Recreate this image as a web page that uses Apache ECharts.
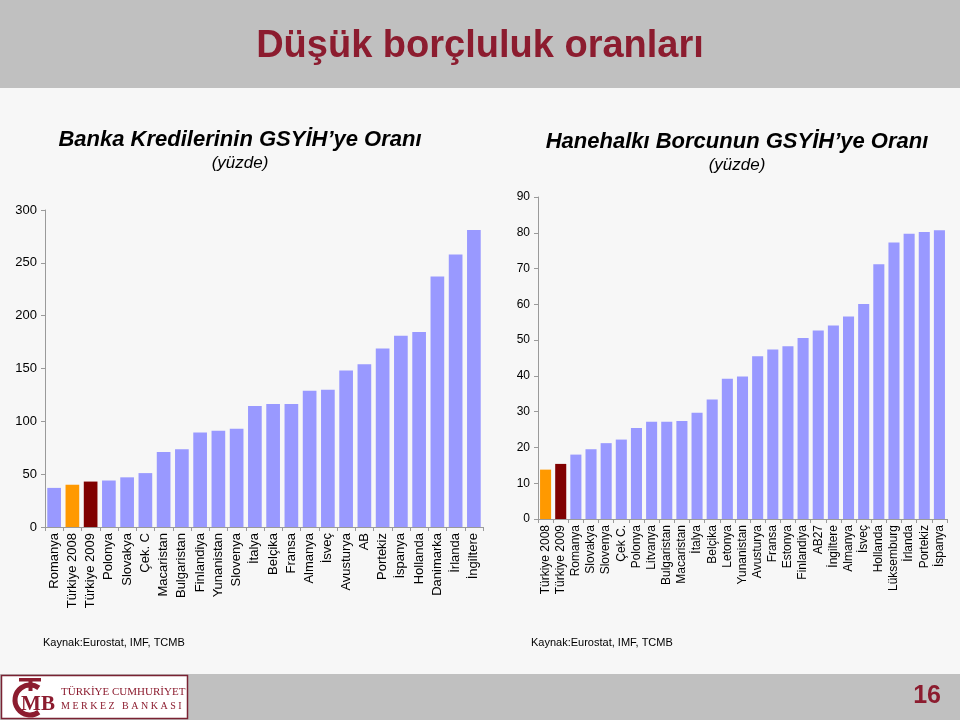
<!DOCTYPE html>
<html><head><meta charset="utf-8">
<script src="https://cdn.jsdelivr.net/npm/echarts@6/dist/echarts.min.js"></script>
<style>html,body{margin:0;padding:0;background:#f7f7f7}#c{width:960px;height:720px}</style>
</head><body><div id="c"></div>
<script>
const leftCategories = ['Romanya','Türkiye 2008','Türkiye 2009','Polonya','Slovakya','Çek. C','Macaristan','Bulgaristan','Finlandiya','Yunanistan','Slovenya','İtalya','Belçika','Fransa','Almanya','İsveç','Avusturya','AB','Portekiz','İspanya','Hollanda','Danimarka','İrlanda','İngiltere'];
const leftValues = [37,40,43,44,47,51,71,73.5,89.5,91,93,114.5,116.5,116.5,129,130,148,154,169,181,184.5,237,258,281];
const rightCategories = ['Türkiye 2008','Türkiye 2009','Romanya','Slovakya','Slovenya','Çek C.','Polonya','Litvanya','Bulgaristan','Macaristan','İtalya','Belçika','Letonya','Yunanistan','Avusturya','Fransa','Estonya','Finlandiya','AB27','İngiltere','Almanya','İsveç','Hollanda','Lüksemburg','İrlanda','Portekiz','İspanya'];
const rightValues = [13.8,15.4,18,19.5,21.2,22.2,25.4,27.2,27.2,27.4,29.7,33.4,39.2,39.8,45.5,47.4,48.3,50.6,52.7,54.1,56.6,60.1,71.2,77.3,79.7,80.2,80.7];
const leftTicks = {min:0,max:300,interval:50};
const rightTicks = {min:0,max:90,interval:10};

const BAR = '#9999ff', ORANGE = '#ff9900', DARK = '#800000', RED = '#8c1c2f';
const FONT = '"Liberation Sans Narrow","Liberation Sans",Arial,sans-serif';
const SANS = '"Liberation Sans",Arial,sans-serif';
const SERIF = '"Liberation Serif","DejaVu Serif",serif';

function colorFor(cat){ if(cat==='Türkiye 2008') return ORANGE; if(cat==='Türkiye 2009') return DARK; return BAR; }

const chart = echarts.init(document.getElementById('c'));
const axisCommon = {
  axisLine:{show:true,lineStyle:{color:'#9a9a9a'}},
  axisTick:{show:true,length:4,lineStyle:{color:'#9a9a9a'}},
  splitLine:{show:false}
};
chart.setOption({
  backgroundColor:'#f7f7f7',
  animation:false,
  textStyle:{fontFamily:FONT},
  graphic:[
    {type:'rect',shape:{x:0,y:0,width:960,height:88},style:{fill:'#c0c0c0'}},
    {type:'text',x:480,y:47,style:{text:'Düşük borçluluk oranları',fill:RED,font:'bold 38px '+FONT,textAlign:'center',textVerticalAlign:'middle'}},
    {type:'text',x:240,y:140,style:{text:'Banka Kredilerinin GSYİH’ye Oranı',fill:'#000',font:'italic bold 22px '+FONT,textAlign:'center',textVerticalAlign:'middle'}},
    {type:'text',x:240,y:163,style:{text:'(yüzde)',fill:'#000',font:'italic 17px '+FONT,textAlign:'center',textVerticalAlign:'middle'}},
    {type:'text',x:737,y:142,style:{text:'Hanehalkı Borcunun GSYİH’ye Oranı',fill:'#000',font:'italic bold 22px '+FONT,textAlign:'center',textVerticalAlign:'middle'}},
    {type:'text',x:737,y:165,style:{text:'(yüzde)',fill:'#000',font:'italic 17px '+FONT,textAlign:'center',textVerticalAlign:'middle'}},
    {type:'text',x:43,y:643,style:{text:'Kaynak:Eurostat, IMF, TCMB',fill:'#000',font:'11px '+FONT,textVerticalAlign:'middle'}},
    {type:'text',x:531,y:643,style:{text:'Kaynak:Eurostat, IMF, TCMB',fill:'#000',font:'11px '+FONT,textVerticalAlign:'middle'}},
    {type:'rect',shape:{x:0,y:674,width:960,height:46},style:{fill:'#c0c0c0'}},
    {type:'rect',shape:{x:1.5,y:675.5,width:186,height:43},style:{fill:'#ffffff',stroke:'#7a2233',lineWidth:1.5}},
    {type:'arc',shape:{cx:30,cy:700,r:15,startAngle:Math.PI*0.3,endAngle:Math.PI*1.7,clockwise:true},style:{stroke:RED,lineWidth:5,fill:'none'}},
    {type:'rect',shape:{x:19,y:678,width:22,height:3.5},style:{fill:RED}},
    {type:'rect',shape:{x:28.5,y:678,width:4,height:13},style:{fill:RED}},
    {type:'text',x:38,y:705,style:{text:'MB',fill:RED,font:'bold 21px '+SERIF,textAlign:'center',textVerticalAlign:'middle'}},
    {type:'text',x:61,y:692,style:{text:'TÜRKİYE CUMHURİYET',fill:RED,font:'11px '+SERIF,textVerticalAlign:'middle'}},
    {type:'text',x:61,y:706,style:{text:'M E R K E Z   B A N K A S I',fill:RED,font:'10px '+SERIF,textVerticalAlign:'middle'}},
    {type:'text',x:941,y:696,style:{text:'16',fill:RED,font:'bold 25px '+FONT,textAlign:'right',textVerticalAlign:'middle'}}
  ],
  grid:[
    {left:45,right:477,top:210,bottom:193,containLabel:false},
    {left:538,right:13,top:197,bottom:201,containLabel:false}
  ],
  xAxis:[
    Object.assign({type:'category',gridIndex:0,data:leftCategories,
      axisLabel:{rotate:90,interval:0,fontSize:13,color:'#000',margin:6,fontFamily:SANS}},axisCommon),
    Object.assign({type:'category',gridIndex:1,data:rightCategories,
      axisLabel:{rotate:90,interval:0,fontSize:12,color:'#000',margin:6,fontFamily:SANS}},axisCommon)
  ],
  yAxis:[
    Object.assign({type:'value',gridIndex:0,min:leftTicks.min,max:leftTicks.max,interval:leftTicks.interval,
      axisLabel:{fontSize:13,color:'#000',margin:8,fontFamily:SANS}},axisCommon),
    Object.assign({type:'value',gridIndex:1,min:rightTicks.min,max:rightTicks.max,interval:rightTicks.interval,
      axisLabel:{fontSize:12,color:'#000',margin:8,fontFamily:SANS}},axisCommon)
  ],
  series:[
    {type:'bar',xAxisIndex:0,yAxisIndex:0,barCategoryGap:'25%',
      data:leftValues.map((v,i)=>({value:v,itemStyle:{color:colorFor(leftCategories[i])}}))},
    {type:'bar',xAxisIndex:1,yAxisIndex:1,barCategoryGap:'27%',
      data:rightValues.map((v,i)=>({value:v,itemStyle:{color:colorFor(rightCategories[i])}}))}
  ]
});
</script></body></html>
